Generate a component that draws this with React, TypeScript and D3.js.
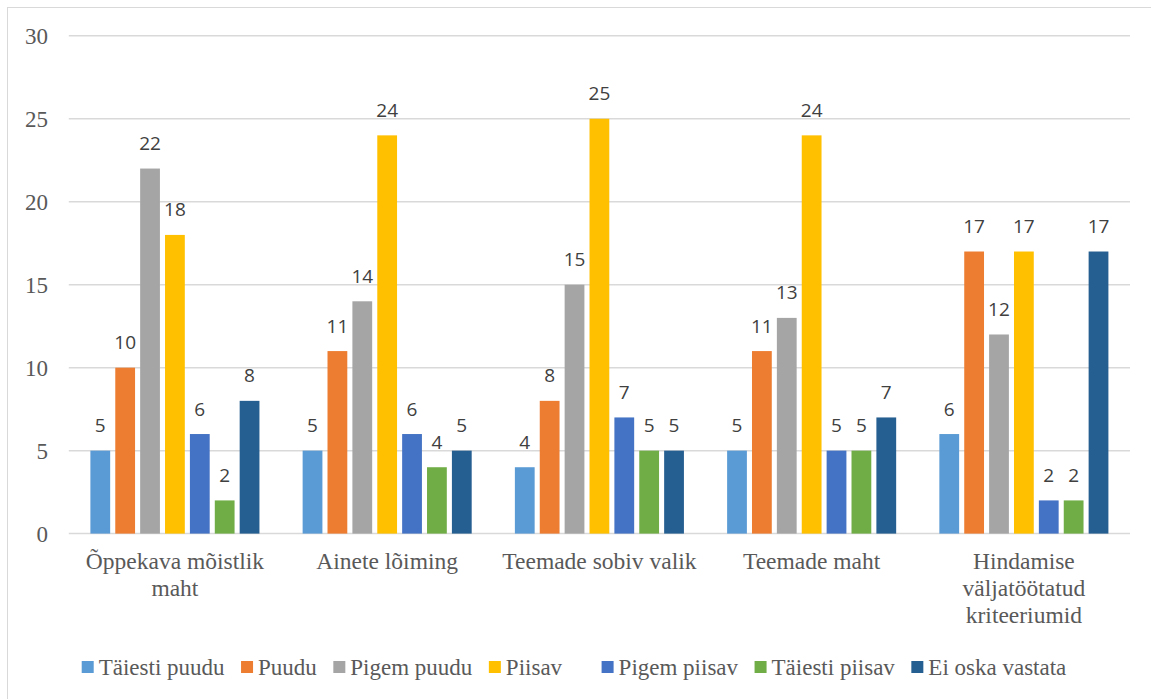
import React from "react";
import * as d3 from "d3";

// Survey answers per curriculum aspect
const categories = [
  "Õppekava mõistlik maht",
  "Ainete lõiming",
  "Teemade sobiv valik",
  "Teemade maht",
  "Hindamise väljatöötatud kriteeriumid",
];

// series names as entered in the sheet ("Piisav" carries trailing blanks)
const seriesNames = [
  "Täiesti puudu",
  "Puudu",
  "Pigem puudu",
  "Piisav    ",
  "Pigem piisav",
  "Täiesti piisav",
  "Ei oska vastata",
];

const taiestiPuudu = [5, 5, 4, 5, 6];
const puudu = [10, 11, 8, 11, 17];
const pigemPuudu = [22, 14, 15, 13, 12];
const piisav = [18, 24, 25, 24, 17];
const pigemPiisav = [6, 6, 7, 5, 2];
const taiestiPiisav = [2, 4, 5, 5, 2];
const eiOskaVastata = [8, 5, 5, 7, 17];

const seriesValues = [
  taiestiPuudu,
  puudu,
  pigemPuudu,
  piisav,
  pigemPiisav,
  taiestiPiisav,
  eiOskaVastata,
];

const seriesColors = [
  "#5B9BD5",
  "#ED7D31",
  "#A5A5A5",
  "#FFC000",
  "#4472C4",
  "#70AD47",
  "#255E91",
];

const yTicks = [0, 5, 10, 15, 20, 25, 30];

const W = 1151;
const H = 699;
const SERIF = "Liberation Serif";
const SANS = "Open Sans";

const canvas = typeof document !== "undefined" ? document.createElement("canvas") : null;
function measure(text: string, size: number, family: string) {
  const ctx = canvas!.getContext("2d")!;
  ctx.font = `${size}px "${family}"`;
  return ctx.measureText(text).width;
}

function wrap(label: string, maxW: number, size: number) {
  const lines: string[] = [];
  let cur = "";
  label.split(" ").forEach((w) => {
    const test = cur ? cur + " " + w : w;
    if (cur && measure(test, size, SERIF) > maxW) {
      lines.push(cur);
      cur = w;
    } else {
      cur = test;
    }
  });
  if (cur) lines.push(cur);
  return lines;
}

export default function App() {
  const plot = { left: 68.8, right: 1130, top: 35.8, bottom: 533.6 };

  const x0 = d3
    .scaleBand<string>()
    .domain(categories)
    .range([plot.left, plot.right])
    .paddingInner(0)
    .paddingOuter(0);

  const x1 = d3
    .scaleBand<number>()
    .domain(d3.range(seriesNames.length))
    .range([0, x0.bandwidth()])
    .paddingInner(0.205)
    .paddingOuter(0.868);

  const y = d3.scaleLinear().domain([0, 30]).range([plot.bottom, plot.top]);

  // legend layout, centred in the chart frame
  const sq = 12;
  const gapText = 5;
  const gapItem = 16.5;
  const legendFont = 23;
  const widths = seriesNames.map((n) => sq + gapText + measure(n, legendFont, SERIF));
  const total = d3.sum(widths) + gapItem * (widths.length - 1);
  const starts: number[] = [];
  let lx = 574 - total / 2;
  widths.forEach((w) => {
    starts.push(lx);
    lx += w + gapItem;
  });

  const catFont = 23.5;

  return (
    <svg
      width={W}
      height={H}
      style={{ position: "absolute", left: 0, top: 0, background: "#fff" }}
    >
      {/* chart frame */}
      <rect x={7.5} y={7.5} width={W + 20} height={H + 20} fill="#fff" stroke="#d9d9d9" strokeWidth={1} />

      {/* gridlines */}
      {yTicks.map((t) => (
        <line
          key={`g${t}`}
          x1={plot.left}
          x2={plot.right}
          y1={y(t)}
          y2={y(t)}
          stroke="#d9d9d9"
          strokeWidth={1.5}
        />
      ))}

      {/* y tick labels */}
      {yTicks.map((t) => (
        <text
          key={`t${t}`}
          x={48}
          y={y(t) + 8.3}
          textAnchor="end"
          fill="#595959"
          style={{ fontFamily: SERIF, fontSize: 23 }}
        >
          {t}
        </text>
      ))}

      {/* bars with value labels */}
      {categories.map((c, ci) => (
        <g key={c} transform={`translate(${x0(c)},0)`}>
          {seriesValues.map((s, si) => (
            <rect
              key={`r${si}`}
              x={x1(si)}
              width={x1.bandwidth()}
              y={y(s[ci])}
              height={y(0) - y(s[ci])}
              fill={seriesColors[si]}
            />
          ))}
          {seriesValues.map((s, si) => (
            <text
              key={`v${si}`}
              x={x1(si)! + x1.bandwidth() / 2}
              y={y(s[ci]) - 18.5}
              textAnchor="middle"
              fill="#404040"
              style={{ fontFamily: SANS, fontSize: 19 }}
            >
              {s[ci]}
            </text>
          ))}
        </g>
      ))}

      {/* category labels */}
      {categories.map((c) => {
        const cx = x0(c)! + x0.bandwidth() / 2;
        const lines = wrap(c, x0.bandwidth() - 6, catFont);
        return (
          <text
            key={`c${c}`}
            textAnchor="middle"
            fill="#595959"
            style={{ fontFamily: SERIF, fontSize: catFont }}
          >
            {lines.map((ln, i) => (
              <tspan key={i} x={cx} y={569 + i * 27}>
                {ln}
              </tspan>
            ))}
          </text>
        );
      })}

      {/* legend */}
      {seriesNames.map((n, i) => (
        <g key={n} transform={`translate(${starts[i]},0)`}>
          <rect width={sq} height={sq} y={661} fill={seriesColors[i]} />
          <text
            x={sq + gapText}
            y={675}
            fill="#595959"
            style={{ fontFamily: SERIF, fontSize: legendFont, whiteSpace: "pre" }}
          >
            {n}
          </text>
        </g>
      ))}
    </svg>
  );
}
